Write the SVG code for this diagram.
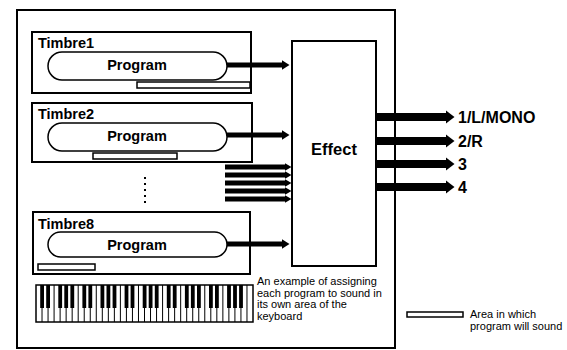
<svg xmlns="http://www.w3.org/2000/svg" width="567" height="350" viewBox="0 0 567 350">
<style>
.frame{fill:#fff;stroke:#000;stroke-width:2}
.pill{fill:#fff;stroke:#000;stroke-width:1.5}
.bar{fill:#fff;stroke:#000;stroke-width:1.5}
.tl{font-family:"Liberation Sans",Arial,sans-serif;font-weight:bold;font-size:14.5px;fill:#000}
.pl{font-family:"Liberation Sans",Arial,sans-serif;font-weight:bold;font-size:14.5px;fill:#000;text-anchor:middle}
.ef{font-family:"Liberation Sans",Arial,sans-serif;font-weight:bold;font-size:16.5px;fill:#000;text-anchor:middle}
.ol{font-family:"Liberation Sans",Arial,sans-serif;font-weight:bold;font-size:16px;fill:#000}
.sm{font-family:"Liberation Sans",Arial,sans-serif;font-size:11px;fill:#000}
.ain{stroke:#000;stroke-width:5;fill:none}
.aout{stroke:#000;stroke-width:8;fill:none}
</style>
<defs>
<marker id="hin" markerUnits="userSpaceOnUse" markerWidth="8" markerHeight="10" refX="0.5" refY="5" orient="auto" viewBox="0 0 8 10"><path d="M0,0 L8,5 L0,10 z" fill="#000"/></marker>
<marker id="hmid" markerUnits="userSpaceOnUse" markerWidth="7" markerHeight="8" refX="0.5" refY="4" orient="auto" viewBox="0 0 7 8"><path d="M0,0 L7,4 L0,8 z" fill="#000"/></marker>
<marker id="hout" markerUnits="userSpaceOnUse" markerWidth="9" markerHeight="14" refX="0.5" refY="7" orient="auto" viewBox="0 0 9 14"><path d="M0,0 L9,7 L0,14 z" fill="#000"/></marker>
</defs>
<rect width="567" height="350" fill="#fff"/>
<rect id="outer" class="frame" x="17" y="10" width="378" height="338"/>

<g id="timbre1">
<rect class="frame" x="32" y="32" width="219" height="61"/>
<text class="tl" x="38" y="48">Timbre1</text>
<rect class="pill" x="48" y="52" width="179" height="28" rx="14"/>
<text class="pl" x="137" y="70">Program</text>
<rect class="bar" x="137" y="82" width="113" height="6"/>
</g>

<g id="timbre2">
<rect class="frame" x="32" y="103" width="220" height="59"/>
<text class="tl" x="38" y="119">Timbre2</text>
<rect class="pill" x="48" y="123" width="179" height="28" rx="14"/>
<text class="pl" x="137" y="141">Program</text>
<rect class="bar" x="93" y="153" width="84" height="6"/>
</g>

<g id="dots" fill="#000">
<rect x="144" y="177" width="2" height="2"/>
<rect x="144" y="183" width="2" height="2"/>
<rect x="144" y="189" width="2" height="2"/>
<rect x="144" y="195" width="2" height="2"/>
<rect x="144" y="201" width="2" height="2"/>
</g>

<g id="timbre8">
<rect class="frame" x="33" y="212" width="217" height="62"/>
<text class="tl" x="38" y="229">Timbre8</text>
<rect class="pill" x="48" y="232" width="179" height="25" rx="12.5"/>
<text class="pl" x="137" y="250">Program</text>
<rect class="bar" x="38" y="264" width="57" height="6"/>
</g>

<g id="effect">
<rect class="frame" x="292" y="41" width="84" height="225"/>
<text class="ef" x="334" y="155">Effect</text>
</g>

<g id="keyboard">
<rect x="36" y="285" width="217" height="37" fill="#fff" stroke="#000" stroke-width="1.5"/>
<path stroke="#000" stroke-width="1" d="M42.03 285V322M48.06 285V322M54.08 285V322M60.11 285V322M66.14 285V322M72.17 285V322M78.19 285V322M84.22 285V322M90.25 285V322M96.28 285V322M102.31 285V322M108.33 285V322M114.36 285V322M120.39 285V322M126.42 285V322M132.44 285V322M138.47 285V322M144.5 285V322M150.53 285V322M156.56 285V322M162.58 285V322M168.61 285V322M174.64 285V322M180.67 285V322M186.69 285V322M192.72 285V322M198.75 285V322M204.78 285V322M210.81 285V322M216.83 285V322M222.86 285V322M228.89 285V322M234.92 285V322M240.94 285V322M246.97 285V322"/>
<path fill="#000" d="M40.2 285h3.8v23h-3.8zM46.2 285h3.8v23h-3.8zM58.3 285h3.8v23h-3.8zM64.3 285h3.8v23h-3.8zM70.4 285h3.8v23h-3.8zM82.4 285h3.8v23h-3.8zM88.4 285h3.8v23h-3.8zM100.5 285h3.8v23h-3.8zM106.5 285h3.8v23h-3.8zM112.6 285h3.8v23h-3.8zM124.6 285h3.8v23h-3.8zM130.6 285h3.8v23h-3.8zM142.7 285h3.8v23h-3.8zM148.7 285h3.8v23h-3.8zM154.8 285h3.8v23h-3.8zM166.8 285h3.8v23h-3.8zM172.8 285h3.8v23h-3.8zM184.9 285h3.8v23h-3.8zM190.9 285h3.8v23h-3.8zM197 285h3.8v23h-3.8zM209 285h3.8v23h-3.8zM215 285h3.8v23h-3.8zM227.1 285h3.8v23h-3.8zM233.1 285h3.8v23h-3.8zM239.1 285h3.8v23h-3.8z"/>
</g>

<g id="connectors">
<line class="ain" x1="227" y1="65" x2="282" y2="65" marker-end="url(#hin)"/>
<line class="ain" x1="227" y1="135" x2="282" y2="135" marker-end="url(#hin)"/>
<line class="ain" x1="227" y1="244" x2="282" y2="244" marker-end="url(#hin)"/>
<line class="ain" x1="225" y1="167" x2="285" y2="167" marker-end="url(#hmid)"/>
<line class="ain" x1="225" y1="175" x2="285" y2="175" marker-end="url(#hmid)"/>
<line class="ain" x1="225" y1="183" x2="285" y2="183" marker-end="url(#hmid)"/>
<line class="ain" x1="225" y1="191" x2="285" y2="191" marker-end="url(#hmid)"/>
<line class="ain" x1="225" y1="199" x2="285" y2="199" marker-end="url(#hmid)"/>
<line class="aout" x1="376" y1="117" x2="446" y2="117" marker-end="url(#hout)"/>
<line class="aout" x1="376" y1="141" x2="446" y2="141" marker-end="url(#hout)"/>
<line class="aout" x1="376" y1="164" x2="446" y2="164" marker-end="url(#hout)"/>
<line class="aout" x1="376" y1="187" x2="446" y2="187" marker-end="url(#hout)"/>
</g>

<g id="outputs">
<text class="ol" x="458" y="123">1/L/MONO</text>
<text class="ol" x="458" y="147">2/R</text>
<text class="ol" x="458" y="170">3</text>
<text class="ol" x="458" y="193">4</text>
</g>

<g id="note">
<text class="sm" x="257" y="285">An example of assigning</text>
<text class="sm" x="257" y="296.5">each program to sound in</text>
<text class="sm" x="257" y="308">its own area of the</text>
<text class="sm" x="257" y="319.5">keyboard</text>
</g>

<g id="legend">
<rect class="bar" x="407" y="312" width="56" height="5"/>
<text class="sm" x="470" y="318">Area in which</text>
<text class="sm" x="470" y="330">program will sound</text>
</g>
</svg>
